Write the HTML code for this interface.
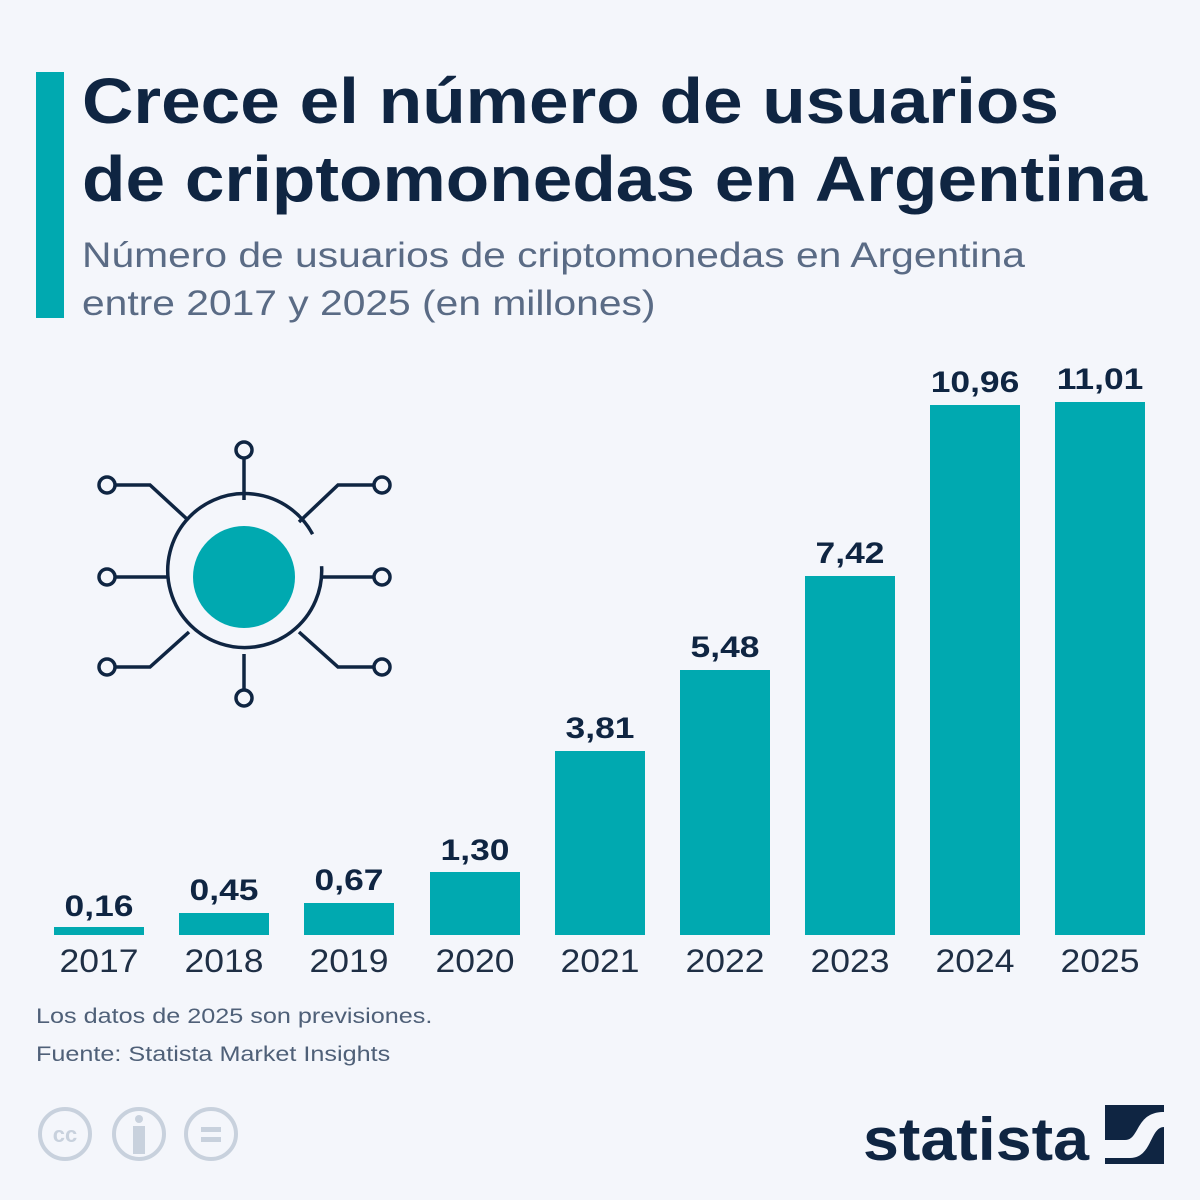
<!DOCTYPE html>
<html><head><meta charset="utf-8"><style>
body{margin:0;width:1200px;height:1200px;background:#f4f6fb;font-family:"Liberation Sans",sans-serif;overflow:hidden;position:relative}
.t{position:absolute;left:82px;top:62px;font-size:64px;font-weight:bold;color:#0f2542;line-height:78px;transform:scaleX(1.112);transform-origin:0 0;white-space:nowrap}
.s{position:absolute;left:82px;top:232px;font-size:35px;color:#5a6b85;line-height:48px;transform:scaleX(1.165);transform-origin:0 0;white-space:nowrap}
.bar{position:absolute;left:36px;top:72px;width:28px;height:246px;background:#00a9b0}
</style></head><body>
<div class="bar"></div>
<div class="t">Crece el número de usuarios<br>de criptomonedas en Argentina</div>
<div class="s">Número de usuarios de criptomonedas en Argentina<br>entre 2017 y 2025 (en millones)</div>
<svg width="1200" height="1200" style="position:absolute;left:0;top:0" font-family="Liberation Sans, sans-serif">
<g fill="none" stroke="#0f2542" stroke-width="3.5">
<path d="M312.6 534.2 A77 77 0 1 0 321.6 566.2"/>
<path d="M244 458V500M244 654V690M115 577H167M322 577H374"/>
<path d="M115 485H150L188 520M374 485H338L299 522M115 667H150L189 632M374 667H338L299 632"/>
<circle cx="244" cy="450" r="8"/><circle cx="244" cy="698" r="8"/>
<circle cx="107" cy="485" r="8"/><circle cx="382" cy="485" r="8"/>
<circle cx="107" cy="577" r="8"/><circle cx="382" cy="577" r="8"/>
<circle cx="107" cy="667" r="8"/><circle cx="382" cy="667" r="8"/>
</g>
<circle cx="244" cy="577" r="51" fill="#00a9b0"/>
<g fill="#00a9b0">
<rect x="54" y="927" width="90" height="8"/>
<rect x="179" y="913" width="90" height="22"/>
<rect x="304" y="903" width="90" height="32"/>
<rect x="430" y="872" width="90" height="63"/>
<rect x="555" y="751" width="90" height="184"/>
<rect x="680" y="670" width="90" height="265"/>
<rect x="805" y="576" width="90" height="359"/>
<rect x="930" y="405" width="90" height="530"/>
<rect x="1055" y="402" width="90" height="533"/>
</g>
<g font-size="30" font-weight="bold" fill="#0f2542" text-anchor="middle">
<text transform="translate(99 916) scale(1.18 1)">0,16</text>
<text transform="translate(224 900) scale(1.18 1)">0,45</text>
<text transform="translate(349 890) scale(1.18 1)">0,67</text>
<text transform="translate(475 860) scale(1.18 1)">1,30</text>
<text transform="translate(600 738) scale(1.18 1)">3,81</text>
<text transform="translate(725 657) scale(1.18 1)">5,48</text>
<text transform="translate(850 563) scale(1.18 1)">7,42</text>
<text transform="translate(975 392) scale(1.18 1)">10,96</text>
<text transform="translate(1100 389) scale(1.18 1)">11,01</text>
</g>
<g font-size="32" fill="#1f2f45" text-anchor="middle">
<text transform="translate(99 972) scale(1.11 1)">2017</text>
<text transform="translate(224 972) scale(1.11 1)">2018</text>
<text transform="translate(349 972) scale(1.11 1)">2019</text>
<text transform="translate(475 972) scale(1.11 1)">2020</text>
<text transform="translate(600 972) scale(1.11 1)">2021</text>
<text transform="translate(725 972) scale(1.11 1)">2022</text>
<text transform="translate(850 972) scale(1.11 1)">2023</text>
<text transform="translate(975 972) scale(1.11 1)">2024</text>
<text transform="translate(1100 972) scale(1.11 1)">2025</text>
</g>
<g font-size="21" fill="#4f6078">
<text transform="translate(36 1023) scale(1.2 1)">Los datos de 2025 son previsiones.</text>
<text transform="translate(36 1061) scale(1.2 1)">Fuente: Statista Market Insights</text>
</g>
<g fill="none" stroke="#c8d1dd" stroke-width="4">
<circle cx="65" cy="1134" r="25"/><circle cx="139" cy="1134" r="25"/><circle cx="211" cy="1134" r="25"/>
</g>
<text x="65" y="1142" font-size="22" font-weight="bold" fill="#c8d1dd" text-anchor="middle">cc</text>
<circle cx="139" cy="1119" r="4" fill="#c8d1dd"/><rect x="133" y="1126" width="12" height="28" fill="#c8d1dd"/>
<rect x="201" y="1127" width="20" height="5" fill="#c8d1dd"/><rect x="201" y="1137" width="20" height="5" fill="#c8d1dd"/>
<text x="863" y="1160" font-size="60" font-weight="bold" fill="#0f2542" textLength="226" lengthAdjust="spacingAndGlyphs">statista</text>
<rect x="1105" y="1105" width="59" height="59" fill="#0f2542"/>
<path d="M1105 1140 H1125 C1140 1140 1135 1112 1164 1112 V1127 C1150 1127 1152 1158 1130 1158 H1105Z" fill="#f4f6fb"/>
</svg>
</body></html>
